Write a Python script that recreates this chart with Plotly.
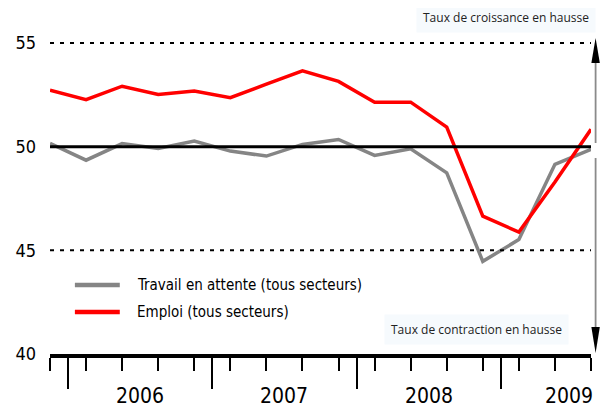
import plotly.graph_objects as go

# trimestres : T4 2005 -> T3 2009
quarters = list(range(16))
year_labels = ["2006", "2007", "2008", "2009"]
year_pos = [2.5, 6.5, 10.5, 14.38]
year_breaks = [0.5, 4.5, 8.5, 12.5]

travail = [50.16, 49.35, 50.15, 49.92, 50.27, 49.79, 49.55, 50.11,
           50.35, 49.58, 49.90, 48.74, 44.47, 45.52, 49.15, 49.87]
emploi = [52.73, 52.27, 52.92, 52.52, 52.69, 52.37, 53.02, 53.66,
          53.15, 52.15, 52.15, 50.95, 46.65, 45.88, 48.30, 50.84]

series_names = ["Travail en attente (tous secteurs)", "Emploi (tous secteurs)"]
series_colors = ["#858585", "#ff0000"]

narrow = "DejaVu Sans Condensed, Liberation Sans Narrow, sans-serif"
small = "Open Sans, DejaVu Sans, sans-serif"

fig = go.Figure()

# lignes de référence
fig.add_hline(y=55, line=dict(color="black", width=2, dash="4px,6px"))
fig.add_hline(y=45, line=dict(color="black", width=2, dash="4px,6px"))
fig.add_hline(y=50, line=dict(color="black", width=3))

for ys, name, col in zip([travail, emploi], series_names, series_colors):
    fig.add_trace(go.Scatter(
        x=quarters, y=ys, mode="lines", name=name,
        line=dict(color=col, width=3.5),
        showlegend=False
    ))

fig.update_xaxes(
    range=[0, 15],
    showgrid=False, zeroline=False,
    showline=True, linewidth=4, linecolor="black",
    tickmode="array", tickvals=year_breaks,
    ticks="outside", ticklen=31, tickwidth=2, tickcolor="black",
    showticklabels=False,
    minor=dict(tickmode="array", tickvals=quarters, ticks="outside",
               ticklen=13, tickwidth=2, tickcolor="black")
)
fig.update_yaxes(
    range=[40, 56.5],
    showgrid=False, zeroline=False, showline=False,
    tickmode="array", tickvals=[40, 45, 50, 55],
    tickfont=dict(family=narrow, size=18, color="black"),
    ticklabelstandoff=13
)

# années
for lab, xp in zip(year_labels, year_pos):
    fig.add_annotation(x=xp, y=-0.123, xref="x", yref="paper", text=lab,
                       showarrow=False, yanchor="middle",
                       font=dict(family=narrow, size=21, color="black"))

# légende
for i, (name, col) in enumerate(zip(series_names, series_colors)):
    yl = 0.2018 - i * 0.079
    fig.add_shape(type="line", xref="paper", yref="paper",
                  x0=0.046, x1=0.129, y0=yl, y1=yl,
                  line=dict(color=col, width=4.5))
    fig.add_annotation(x=0.157, y=yl, xref="paper", yref="paper",
                       text=name, showarrow=False,
                       xanchor="left", yanchor="middle",
                       font=dict(family=narrow, size=15, color="black"))

# flèches à droite
ax_x = 1.0085
hw = 0.0078
fig.add_shape(type="line", xref="paper", yref="paper",
              x0=ax_x, x1=ax_x, y0=0.86, y1=0.617,
              line=dict(color="#8a8a8a", width=1.8))
fig.add_shape(type="line", xref="paper", yref="paper",
              x0=ax_x, x1=ax_x, y0=0.573, y1=0.07,
              line=dict(color="#8a8a8a", width=1.8))
fig.add_shape(type="path", xref="paper", yref="paper",
              path=f"M {ax_x - hw} 0.851 L {ax_x} 0.924 L {ax_x + hw} 0.851 Z",
              fillcolor="black", line=dict(width=0))
fig.add_shape(type="path", xref="paper", yref="paper",
              path=f"M {ax_x - hw} 0.079 L {ax_x} 0.003 L {ax_x + hw} 0.079 Z",
              fillcolor="black", line=dict(width=0))

fig.add_annotation(x=1.009, y=56.25, xref="paper", yref="y",
                   text="Taux de croissance en hausse", showarrow=False,
                   xanchor="right", bgcolor="#f6fafd", borderpad=6,
                   font=dict(family=small, size=12, color="#222"))
fig.add_annotation(x=14.39, y=41.16, xref="x", yref="y",
                   text="Taux de contraction en hausse", showarrow=False,
                   xanchor="right", bgcolor="#f6fafd", borderpad=6,
                   font=dict(family=small, size=12, color="#222"))

# la page ajoute 8 px de marge : figure plus petite que la fenêtre
fig.update_layout(
    width=593, height=401,
    margin=dict(l=42, r=10, t=4, b=55, autoexpand=False),
    plot_bgcolor="white", paper_bgcolor="white",
    showlegend=False
)

fig.write_html("out.html")
